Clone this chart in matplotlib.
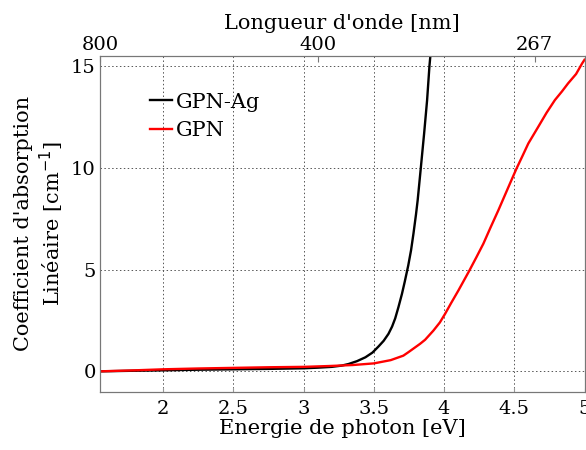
import matplotlib
matplotlib.use("Agg")
import matplotlib.pyplot as plt

# Data
energy_ag = [1.55, 1.8, 2.0, 2.25, 2.5, 2.75, 3.0, 3.1, 3.2, 3.27, 3.32, 3.38, 3.44, 3.49, 3.533, 3.57,
             3.604, 3.63, 3.652, 3.675, 3.70, 3.72, 3.745, 3.765, 3.782, 3.80, 3.812, 3.834, 3.858, 3.879, 3.896, 3.903]
alpha_ag = [0.0, 0.03, 0.05, 0.08, 0.1, 0.12, 0.15, 0.18, 0.22, 0.28, 0.36, 0.5, 0.69, 0.92, 1.22, 1.5,
            1.84, 2.2, 2.6, 3.15, 3.8, 4.4, 5.2, 5.95, 6.76, 7.7, 8.4, 9.96, 11.68, 13.3, 15.0, 15.53]

energy_gpn = [1.55, 1.8, 2.0, 2.25, 2.5, 2.75, 3.0, 3.178, 3.35, 3.5, 3.62, 3.71, 3.746, 3.829, 3.865,
              3.924, 3.97, 4.007, 4.05, 4.102, 4.178, 4.23, 4.28, 4.33, 4.386, 4.469, 4.516, 4.56, 4.6, 4.67,
              4.73, 4.789, 4.84, 4.883, 4.94, 4.983, 5.0]
alpha_gpn = [0.0, 0.05, 0.1, 0.14, 0.17, 0.2, 0.22, 0.26, 0.31, 0.39, 0.55, 0.77, 0.94, 1.35, 1.55,
             2.0, 2.4, 2.82, 3.35, 3.97, 4.92, 5.6, 6.27, 7.05, 7.9, 9.22, 9.96, 10.6, 11.19, 12.0,
             12.7, 13.32, 13.75, 14.14, 14.6, 15.12, 15.3]

series_labels = ["GPN-Ag", "GPN"]
wavelength_ticks = [800, 400, 267]
hc = 1240.0

plt.rcParams['font.family'] = ['DejaVu Serif']

fig = plt.figure(figsize=(5.86, 4.5), dpi=100)
ax = fig.add_axes([100/586, (450-391.7)/450, (584.5-100)/586, (391.7-55.7)/450])

ax.plot(energy_ag, alpha_ag, color='black', lw=1.7, label=series_labels[0])
ax.plot(energy_gpn, alpha_gpn, color='red', lw=1.7, label=series_labels[1])

ax.set_xlim(hc/800, 5.0)
ax.set_ylim(-1, 15.5)
ax.set_xticks([2, 2.5, 3, 3.5, 4, 4.5, 5])
ax.set_xticklabels(['2', '2.5', '3', '3.5', '4', '4.5', '5'])
ax.set_yticks([0, 5, 10, 15])
ax.grid(True, linestyle=(0, (1.5, 2.5)), color='#555555', lw=0.7)

for s in ax.spines.values():
    s.set_color('#777777')
ax.tick_params(direction='in', length=3, color='#999999', labelsize=14, top=False, right=False)
ax.tick_params(axis='x', pad=6)
ax.tick_params(axis='y', length=0, pad=3)

ax.set_xlabel("Energie de photon [eV]", fontsize=15, labelpad=1)
ax.set_ylabel("Coefficient d'absorption\nLinéaire [cm$^{-1}$]", fontsize=15, labelpad=4)

ax2 = ax.twiny()
ax2.set_xlim(ax.get_xlim())
ax2.set_xticks([hc/w for w in wavelength_ticks])
ax2.set_xticklabels([str(w) for w in wavelength_ticks])
ax2.tick_params(direction='in', length=4, color='#777777', labelsize=14, pad=1)
for s in ax2.spines.values():
    s.set_color('#777777')
ax2.set_xlabel("Longueur d'onde [nm]", fontsize=15, labelpad=5)

leg = ax.legend(loc='upper left', bbox_to_anchor=(0.085, 0.915), frameon=False, fontsize=15,
                handlelength=1.1, handletextpad=0.15, labelspacing=0.45, borderaxespad=0)

fig.savefig("out.png", dpi=100)
